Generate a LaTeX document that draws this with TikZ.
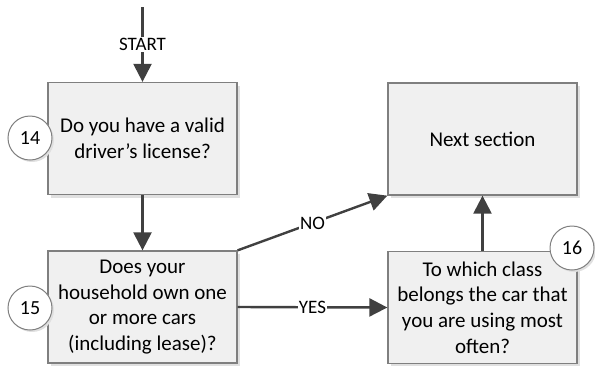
\documentclass[tikz,border=0pt]{standalone}
\usepackage{fontspec}
\setmainfont{Carlito}
\usetikzlibrary{arrows.meta,shadows}
\definecolor{boxfill}{HTML}{F0F0F0}
\definecolor{boxline}{HTML}{7F7F7F}
\definecolor{arrowcol}{HTML}{404040}
\begin{document}
\begin{tikzpicture}[x=1pt,y=-1pt,
  stepbox/.style={draw=boxline, line width=1.3pt, fill=boxfill, minimum width=189pt, minimum height=112pt,
    align=center, inner sep=2pt, font=\fontsize{21}{25.6}\selectfont,
    drop shadow={shadow xshift=3pt, shadow yshift=-3pt, fill=black!12, opacity=1}},
  numcircle/.style={circle, draw=boxline, line width=1pt, fill=white, minimum size=44pt, inner sep=0pt,
    font=\fontsize{20}{24}\selectfont,
    drop shadow={shadow xshift=2pt, shadow yshift=-2pt, fill=black!12, opacity=1}},
  flow/.style={draw=arrowcol, line width=2.4pt, -{Triangle[length=18pt,width=18pt]}},
  lbl/.style={fill=white, inner sep=1pt, font=\fontsize{19}{22}\selectfont}
]
\useasboundingbox (0,0) rectangle (595,365);
\node[stepbox] (q14) at (142.5,138.5) {Do you have a valid\\driver’s license?};
\node[stepbox] (q15) at (142.5,307) {Does your\\household own one\\or more cars\\(including lease)?};
\node[stepbox] (next) at (482.5,139) {Next section};
\node[stepbox] (q16) at (482.5,307.5) {To which class\\belongs the car that\\you are using most\\often?};
\node[numcircle] (c14) at (30,138) {14};
\node[numcircle] (c15) at (30,308) {15};
\node[numcircle] (c16) at (572,248) {16};
\coordinate (start) at (142.5,7);
\draw[flow] (start) -- node[lbl, pos=0.5] {START} (q14.north);
\draw[flow] (q14.south) -- (q15.north);
\draw[flow] (q15.north east) -- node[lbl] {NO} (next.south west);
\draw[flow] (q15.east) -- node[lbl] {YES} (q16.west);
\draw[flow] (q16.north) -- (next.south);
\end{tikzpicture}
\end{document}
